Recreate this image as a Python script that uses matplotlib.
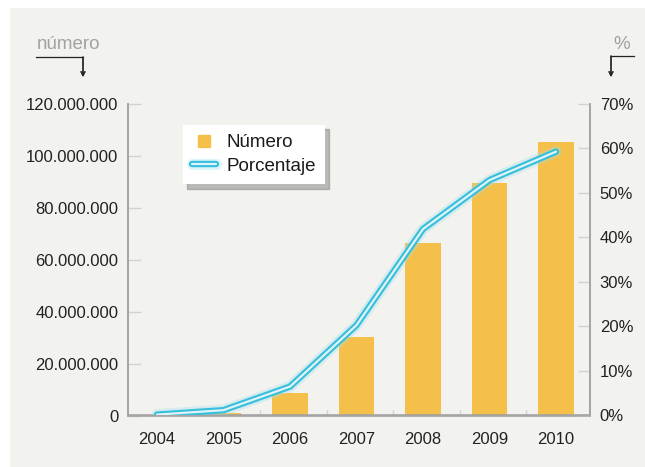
import numpy as np
import matplotlib.pyplot as plt
import matplotlib.patheffects as pe
from matplotlib.patches import Rectangle
from matplotlib.lines import Line2D
from matplotlib.ticker import FuncFormatter, FixedLocator

# data
years = ['2004', '2005', '2006', '2007', '2008', '2009', '2010']
numero = [0, 0.8e6, 8.8e6, 30.2e6, 66.5e6, 89.5e6, 105.4e6]
porcentaje = [0.2, 1.2, 6.5, 20.3, 41.9, 52.9, 59.3]

plt.rcParams['font.family'] = ['Liberation Sans Narrow', 'Liberation Sans', 'DejaVu Sans']

W, H = 645, 467
fig = plt.figure(figsize=(W / 100, H / 100), dpi=100, facecolor='white')

# light panel behind everything
fig.add_artist(Rectangle((10 / W, 0), 1 - 10 / W, 1 - 8 / H, transform=fig.transFigure,
                         facecolor='#f2f2ee', edgecolor='none', zorder=-10))

ax = fig.add_axes([128 / W, 1 - 415.5 / H, 462 / W, 311.5 / H])
ax.set_facecolor('none')
ax2 = ax.twinx()

orange = '#f5c04a'
x = np.arange(len(years))
ax.bar(x, numero, width=0.54, color=orange, zorder=2)

glow = '#9fe0ee'
cyan = '#35bfdc'
line, = ax2.plot(x, porcentaje, color='#dff3f8', lw=1.6, solid_capstyle='round',
                 solid_joinstyle='round', label='Porcentaje', zorder=3,
                 path_effects=[pe.Stroke(linewidth=8, foreground=glow, alpha=0.35),
                               pe.Stroke(linewidth=4.6, foreground=cyan),
                               pe.Normal()])

ax.set_xlim(-0.436, 6.511)
ax.set_ylim(0, 120e6)
ax2.set_ylim(0, 70)

ax.set_yticks(np.arange(0, 120e6 + 1, 20e6))
ax.yaxis.set_major_formatter(FuncFormatter(lambda v, p: f'{v:,.0f}'.replace(',', '.')))
ax2.set_yticks(np.arange(0, 71, 10))
ax2.yaxis.set_major_formatter(FuncFormatter(lambda v, p: f'{int(v)}%'))

ax.set_xticks(x)
ax.set_xticklabels(years)
ax.xaxis.set_minor_locator(FixedLocator(x[:-1] + 0.55))

for a in (ax, ax2):
    a.spines['top'].set_visible(False)
    for s in ('left', 'right', 'bottom'):
        a.spines[s].set_color('#a3a3a3')
        a.spines[s].set_linewidth(1.2)

ax.tick_params(axis='y', direction='in', length=9.5, width=1, color='#d2d2d2',
               pad=7, labelsize=12, labelcolor='#222222')
ax2.tick_params(axis='y', direction='in', length=9, width=1, color='#d2d2d2',
                pad=7, labelsize=12, labelcolor='#222222')
ax.tick_params(axis='x', which='major', length=0, pad=12, labelsize=12, labelcolor='#222222')
ax.tick_params(axis='x', which='minor', direction='in', length=4.5, width=1, color='#d2d2d2')

# legend
sq = Line2D([], [], linestyle='none', marker='s', markersize=9, color=orange)
leg = ax.legend(handles=[sq, line], labels=['Número', 'Porcentaje'],
                loc='upper left', bbox_to_anchor=(0.119, 0.933), borderaxespad=0,
                frameon=True, fancybox=False,
                shadow={'ox': 3, 'oy': -3, 'color': '#777777', 'alpha': 0.45},
                framealpha=1, edgecolor='none', facecolor='white',
                fontsize=13.5, handlelength=1.25, handletextpad=0.55, labelspacing=0.35,
                borderpad=0.5)
leg.set_zorder(10)
for t in leg.get_texts():
    t.set_color('#1a1a1a')

# axis captions with bracket arrows
def fx(px):
    return px / W

def fy(py):
    return 1 - py / H

fig.text(fx(37), fy(49), 'número', color='#a2a2a2', fontsize=13.5, ha='left', va='baseline')
fig.text(fx(630), fy(49), '%', color='#a2a2a2', fontsize=13.5, ha='right', va='baseline')

fig.add_artist(Line2D([fx(36), fx(83)], [fy(57), fy(57)], color='#222222', lw=0.9))
fig.add_artist(Line2D([fx(634), fx(611)], [fy(56), fy(56)], color='#222222', lw=0.9))
for xx, y0 in ((83, 57), (611, 56)):
    fig.add_artist(plt.annotate('', xy=(fx(xx), fy(77)), xytext=(fx(xx), fy(y0)),
                                xycoords='figure fraction', textcoords='figure fraction',
                                arrowprops=dict(arrowstyle='->', color='#222222', lw=0.9,
                                                shrinkA=0, shrinkB=0,
                                                mutation_scale=7)))

fig.savefig('out.png', dpi=100, facecolor=fig.get_facecolor())
